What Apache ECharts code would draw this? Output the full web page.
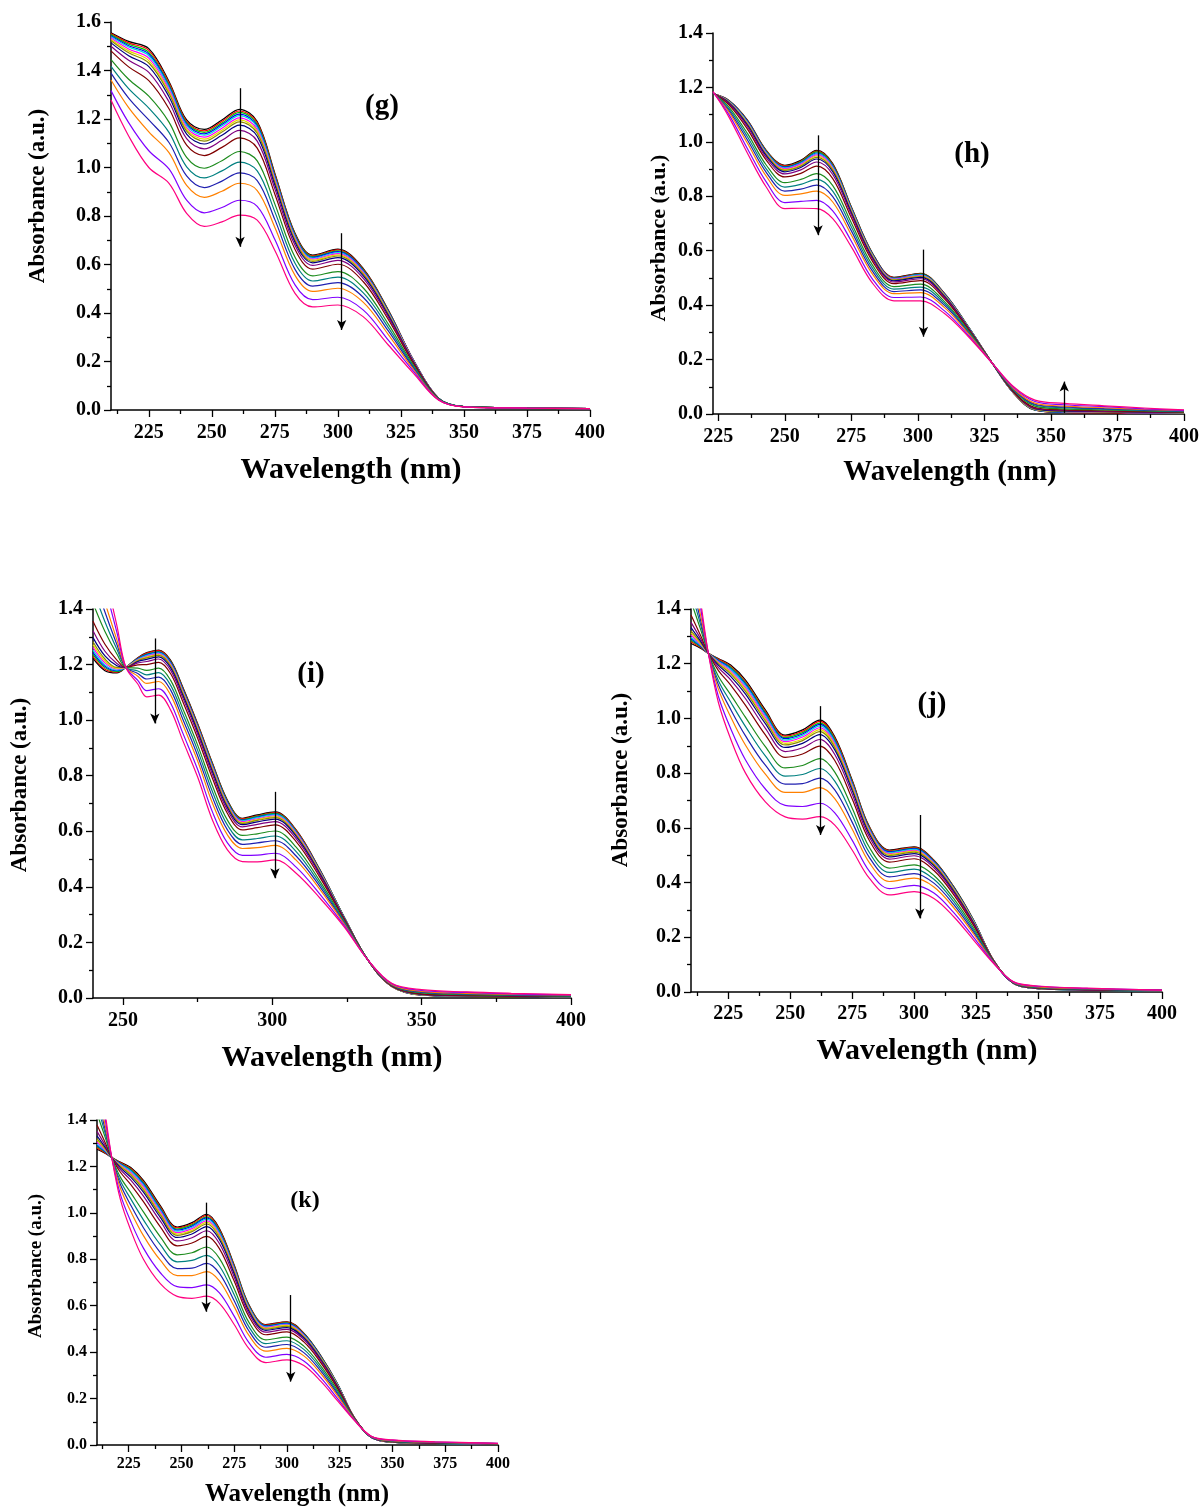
<!DOCTYPE html>
<html>
<head>
<meta charset="utf-8">
<script src="https://cdn.jsdelivr.net/npm/echarts@6/dist/echarts.min.js"></script>
<style>
html,body{margin:0;padding:0;background:#fff;}
#chart{width:1202px;height:1509px;}
</style>
</head>
<body>
<div id="chart"></div>
<script>
// One colour per spectrum, in recording order (first scan black, last scan pink)
const spectrumColors = ['#000000','#FF0000','#00C800','#0000FF','#00DDDD','#FF00FF','#E8D800','#8C8C00',
  '#000080','#800080','#800000','#1E8C1E','#008080','#2020B0','#FF8000','#8000FF','#FF0080'];

// ---------- (g) ----------
const gWavelength = [210,217,225,233,240,247,254,261,268,275,283,290,300,310,320,330,340,350,375,400];
const gSpectra = [
  [1.556,1.520,1.490,1.355,1.196,1.157,1.196,1.240,1.190,0.976,0.729,0.639,0.663,0.584,0.412,0.206,0.048,0.014,0.008,0.006],
  [1.552,1.514,1.483,1.349,1.190,1.151,1.190,1.233,1.184,0.971,0.725,0.636,0.660,0.581,0.410,0.205,0.048,0.014,0.008,0.006],
  [1.548,1.508,1.475,1.342,1.184,1.145,1.183,1.227,1.178,0.966,0.722,0.633,0.656,0.578,0.408,0.204,0.048,0.014,0.008,0.006],
  [1.543,1.502,1.468,1.336,1.179,1.139,1.177,1.220,1.172,0.962,0.718,0.629,0.653,0.575,0.406,0.204,0.048,0.014,0.008,0.006],
  [1.539,1.497,1.461,1.330,1.173,1.133,1.171,1.214,1.166,0.957,0.714,0.626,0.649,0.572,0.403,0.203,0.048,0.014,0.008,0.006],
  [1.534,1.489,1.451,1.321,1.165,1.125,1.162,1.205,1.157,0.951,0.709,0.622,0.645,0.568,0.400,0.202,0.047,0.014,0.008,0.006],
  [1.528,1.481,1.441,1.313,1.157,1.117,1.154,1.196,1.149,0.944,0.704,0.618,0.640,0.564,0.398,0.200,0.047,0.014,0.008,0.006],
  [1.523,1.473,1.431,1.305,1.150,1.109,1.146,1.188,1.141,0.938,0.699,0.613,0.635,0.560,0.395,0.199,0.047,0.014,0.008,0.006],
  [1.514,1.461,1.416,1.292,1.138,1.097,1.133,1.175,1.129,0.928,0.692,0.607,0.628,0.554,0.390,0.198,0.047,0.014,0.008,0.006],
  [1.500,1.442,1.392,1.271,1.119,1.077,1.112,1.153,1.109,0.912,0.679,0.596,0.617,0.544,0.383,0.195,0.046,0.014,0.008,0.006],
  [1.481,1.415,1.358,1.242,1.092,1.049,1.083,1.122,1.080,0.890,0.662,0.581,0.601,0.530,0.373,0.191,0.046,0.014,0.008,0.006],
  [1.445,1.364,1.294,1.187,1.042,0.997,1.028,1.066,1.027,0.849,0.630,0.553,0.571,0.504,0.354,0.184,0.045,0.014,0.008,0.006],
  [1.417,1.325,1.245,1.145,1.003,0.957,0.986,1.022,0.986,0.817,0.605,0.532,0.548,0.484,0.340,0.178,0.044,0.014,0.008,0.006],
  [1.389,1.286,1.196,1.103,0.965,0.917,0.944,0.978,0.946,0.785,0.580,0.511,0.525,0.465,0.326,0.173,0.043,0.013,0.008,0.006],
  [1.361,1.247,1.147,1.061,0.926,0.877,0.902,0.935,0.905,0.753,0.555,0.489,0.502,0.445,0.311,0.167,0.042,0.013,0.008,0.006],
  [1.317,1.185,1.069,0.994,0.865,0.813,0.835,0.865,0.840,0.703,0.516,0.455,0.465,0.413,0.288,0.159,0.041,0.013,0.008,0.006],
  [1.278,1.130,1.000,0.935,0.811,0.757,0.776,0.804,0.783,0.658,0.481,0.425,0.433,0.385,0.268,0.151,0.040,0.013,0.008,0.006]
];
const gXTicks = [225,250,275,300,325,350,375,400];
const gXMinor = [212.5,237.5,262.5,287.5,312.5,337.5,362.5,387.5];
const gArrows = [[261.2,1.327,0.673],[301.5,0.729,0.330]];

// ---------- (h) ----------
const hWavelength = [223,229,236,243,250,256,262,268,275,283,291,301,310,319,328,336,344,355,370,385,400];
const hSpectra = [
  [1.177,1.152,1.079,0.969,0.914,0.932,0.969,0.920,0.761,0.590,0.502,0.517,0.443,0.320,0.186,0.076,0.014,0.006,0.005,0.004,0.004],
  [1.177,1.151,1.077,0.967,0.912,0.929,0.966,0.917,0.759,0.588,0.501,0.515,0.442,0.319,0.186,0.076,0.015,0.006,0.005,0.004,0.004],
  [1.177,1.150,1.075,0.965,0.909,0.927,0.963,0.914,0.757,0.587,0.499,0.514,0.441,0.319,0.186,0.077,0.015,0.007,0.006,0.005,0.004],
  [1.177,1.149,1.074,0.963,0.907,0.924,0.959,0.911,0.754,0.585,0.498,0.512,0.440,0.318,0.186,0.077,0.016,0.007,0.006,0.005,0.004],
  [1.177,1.148,1.072,0.961,0.904,0.921,0.956,0.908,0.752,0.583,0.497,0.511,0.439,0.318,0.186,0.077,0.016,0.008,0.007,0.005,0.005],
  [1.178,1.147,1.069,0.958,0.901,0.918,0.952,0.904,0.749,0.581,0.495,0.509,0.437,0.317,0.186,0.078,0.017,0.009,0.007,0.005,0.005],
  [1.178,1.146,1.067,0.955,0.898,0.914,0.948,0.900,0.746,0.579,0.493,0.507,0.436,0.316,0.186,0.078,0.018,0.009,0.008,0.006,0.005],
  [1.178,1.145,1.064,0.953,0.895,0.911,0.943,0.896,0.743,0.577,0.492,0.505,0.434,0.316,0.186,0.079,0.018,0.010,0.008,0.006,0.005],
  [1.178,1.143,1.061,0.949,0.890,0.906,0.937,0.890,0.739,0.573,0.489,0.502,0.432,0.315,0.186,0.080,0.020,0.011,0.009,0.007,0.006],
  [1.179,1.140,1.055,0.942,0.882,0.897,0.926,0.880,0.732,0.568,0.485,0.497,0.428,0.313,0.186,0.081,0.021,0.013,0.010,0.008,0.006],
  [1.179,1.136,1.046,0.933,0.871,0.884,0.911,0.865,0.721,0.560,0.479,0.490,0.423,0.310,0.186,0.082,0.024,0.015,0.012,0.009,0.007],
  [1.180,1.128,1.030,0.915,0.850,0.862,0.883,0.839,0.702,0.546,0.468,0.477,0.413,0.306,0.186,0.086,0.029,0.019,0.015,0.011,0.008],
  [1.181,1.121,1.018,0.901,0.834,0.844,0.862,0.819,0.687,0.535,0.459,0.466,0.406,0.302,0.186,0.088,0.033,0.023,0.018,0.013,0.010],
  [1.182,1.115,1.006,0.888,0.819,0.826,0.841,0.799,0.673,0.524,0.450,0.456,0.399,0.298,0.186,0.090,0.036,0.026,0.020,0.015,0.011],
  [1.183,1.109,0.994,0.874,0.803,0.809,0.819,0.779,0.658,0.513,0.442,0.446,0.391,0.295,0.186,0.093,0.040,0.029,0.023,0.017,0.012],
  [1.184,1.100,0.974,0.853,0.777,0.781,0.785,0.746,0.635,0.495,0.428,0.430,0.379,0.289,0.186,0.097,0.046,0.034,0.027,0.019,0.013],
  [1.185,1.091,0.957,0.834,0.755,0.756,0.755,0.718,0.614,0.480,0.416,0.416,0.369,0.284,0.186,0.100,0.051,0.039,0.030,0.022,0.015]
];
const hXTicks = [225,250,275,300,325,350,375,400];
const hXMinor = [237.5,262.5,287.5,312.5,337.5,362.5,387.5];
const hArrows = [[262.5,1.024,0.657],[302.1,0.604,0.284],[355,0.004,0.119]];

// ---------- (i) ----------
const iWavelength = [240,244,248,251,255,258,262,266,270,275,280,285,290,295,301,308,316,324,332,340,350,365,380,400];
const iSpectra = [
  [1.222,1.178,1.170,1.190,1.225,1.243,1.252,1.215,1.120,0.988,0.845,0.712,0.647,0.659,0.670,0.605,0.461,0.293,0.137,0.041,0.010,0.006,0.005,0.004],
  [1.229,1.183,1.173,1.190,1.224,1.241,1.250,1.212,1.117,0.985,0.842,0.709,0.645,0.656,0.667,0.603,0.459,0.292,0.137,0.041,0.010,0.006,0.005,0.004],
  [1.237,1.189,1.175,1.190,1.222,1.238,1.247,1.210,1.114,0.982,0.839,0.707,0.642,0.654,0.665,0.600,0.458,0.292,0.137,0.041,0.011,0.006,0.005,0.004],
  [1.244,1.194,1.178,1.190,1.221,1.236,1.245,1.207,1.111,0.979,0.836,0.704,0.640,0.651,0.662,0.598,0.456,0.291,0.137,0.042,0.011,0.007,0.006,0.004],
  [1.252,1.199,1.180,1.190,1.219,1.233,1.242,1.204,1.108,0.976,0.833,0.701,0.638,0.649,0.660,0.596,0.455,0.291,0.137,0.042,0.011,0.007,0.006,0.005],
  [1.262,1.206,1.184,1.190,1.217,1.230,1.239,1.201,1.105,0.973,0.829,0.698,0.635,0.645,0.656,0.593,0.453,0.290,0.137,0.042,0.012,0.007,0.006,0.005],
  [1.272,1.213,1.187,1.190,1.215,1.227,1.236,1.197,1.101,0.969,0.824,0.694,0.631,0.642,0.653,0.589,0.451,0.289,0.137,0.042,0.012,0.008,0.006,0.005],
  [1.282,1.220,1.190,1.190,1.214,1.224,1.233,1.194,1.097,0.965,0.820,0.691,0.628,0.639,0.649,0.586,0.449,0.289,0.137,0.042,0.012,0.008,0.006,0.005],
  [1.297,1.231,1.196,1.190,1.211,1.219,1.228,1.188,1.091,0.959,0.814,0.685,0.624,0.634,0.644,0.582,0.446,0.288,0.137,0.043,0.013,0.008,0.007,0.005],
  [1.322,1.248,1.204,1.190,1.206,1.211,1.220,1.179,1.082,0.950,0.804,0.676,0.616,0.625,0.635,0.574,0.441,0.286,0.137,0.043,0.014,0.009,0.007,0.006],
  [1.356,1.273,1.216,1.190,1.199,1.200,1.208,1.167,1.068,0.936,0.790,0.664,0.605,0.613,0.623,0.563,0.433,0.283,0.137,0.044,0.015,0.010,0.008,0.006],
  [1.421,1.319,1.238,1.190,1.187,1.179,1.187,1.143,1.043,0.911,0.763,0.640,0.585,0.591,0.601,0.543,0.420,0.279,0.137,0.046,0.018,0.012,0.010,0.007],
  [1.471,1.354,1.255,1.190,1.177,1.163,1.171,1.125,1.024,0.892,0.742,0.622,0.569,0.574,0.583,0.527,0.410,0.275,0.137,0.047,0.020,0.014,0.011,0.008],
  [1.521,1.389,1.272,1.190,1.168,1.148,1.155,1.108,1.005,0.873,0.722,0.605,0.553,0.558,0.566,0.511,0.400,0.271,0.137,0.048,0.022,0.016,0.012,0.009],
  [1.571,1.424,1.289,1.190,1.158,1.132,1.139,1.090,0.986,0.854,0.701,0.587,0.538,0.541,0.549,0.496,0.390,0.268,0.137,0.049,0.024,0.017,0.013,0.010],
  [1.650,1.481,1.316,1.190,1.143,1.106,1.113,1.061,0.955,0.823,0.669,0.558,0.513,0.514,0.521,0.471,0.373,0.262,0.137,0.051,0.027,0.020,0.015,0.011],
  [1.720,1.530,1.340,1.190,1.130,1.084,1.090,1.036,0.928,0.796,0.640,0.533,0.491,0.490,0.497,0.449,0.359,0.257,0.137,0.053,0.030,0.022,0.017,0.012]
];
const iXTicks = [250,300,350,400];
const iXMinor = [275,325,375];
const iArrows = [[260.7,1.294,0.988],[300.9,0.742,0.431]];

// ---------- (j) ----------
const jWavelength = [210,214,217,221,226,232,240,248,255,262,268,275,282,290,300,308,316,324,332,340,350,370,400];
const jSpectra = [
  [1.274,1.256,1.238,1.219,1.195,1.140,1.031,0.939,0.958,0.994,0.933,0.775,0.604,0.519,0.531,0.482,0.385,0.263,0.117,0.032,0.012,0.007,0.005],
  [1.280,1.258,1.238,1.217,1.191,1.135,1.026,0.935,0.953,0.989,0.928,0.771,0.601,0.517,0.529,0.480,0.383,0.262,0.117,0.032,0.012,0.007,0.005],
  [1.286,1.261,1.238,1.214,1.187,1.130,1.021,0.930,0.948,0.983,0.923,0.767,0.598,0.514,0.526,0.478,0.382,0.261,0.117,0.032,0.012,0.007,0.005],
  [1.291,1.263,1.238,1.212,1.183,1.125,1.016,0.926,0.943,0.978,0.918,0.763,0.595,0.512,0.524,0.476,0.380,0.260,0.116,0.032,0.012,0.007,0.005],
  [1.297,1.266,1.238,1.209,1.179,1.120,1.011,0.921,0.938,0.973,0.914,0.760,0.593,0.509,0.521,0.474,0.378,0.259,0.116,0.032,0.013,0.007,0.005],
  [1.305,1.269,1.238,1.206,1.173,1.113,1.004,0.915,0.932,0.966,0.907,0.755,0.589,0.506,0.518,0.471,0.376,0.257,0.116,0.032,0.013,0.008,0.005],
  [1.313,1.272,1.238,1.203,1.168,1.106,0.997,0.909,0.925,0.959,0.901,0.749,0.585,0.503,0.515,0.468,0.374,0.256,0.116,0.033,0.013,0.008,0.005],
  [1.320,1.276,1.238,1.200,1.163,1.099,0.991,0.903,0.919,0.952,0.894,0.744,0.581,0.499,0.511,0.465,0.372,0.254,0.116,0.033,0.013,0.008,0.005],
  [1.332,1.281,1.238,1.195,1.154,1.089,0.981,0.894,0.909,0.941,0.885,0.737,0.576,0.494,0.506,0.461,0.368,0.252,0.115,0.033,0.014,0.008,0.005],
  [1.351,1.289,1.238,1.187,1.141,1.072,0.964,0.879,0.893,0.923,0.868,0.724,0.566,0.486,0.498,0.454,0.363,0.248,0.115,0.033,0.014,0.008,0.006],
  [1.378,1.300,1.238,1.176,1.122,1.048,0.940,0.858,0.870,0.899,0.846,0.706,0.553,0.475,0.487,0.444,0.355,0.243,0.114,0.034,0.015,0.009,0.006],
  [1.428,1.322,1.238,1.155,1.087,1.004,0.897,0.819,0.828,0.853,0.804,0.673,0.528,0.453,0.465,0.426,0.341,0.234,0.112,0.034,0.016,0.010,0.006],
  [1.467,1.338,1.238,1.139,1.060,0.970,0.863,0.789,0.795,0.817,0.771,0.647,0.509,0.437,0.449,0.412,0.330,0.226,0.111,0.035,0.017,0.011,0.006],
  [1.506,1.354,1.238,1.124,1.033,0.936,0.829,0.760,0.762,0.782,0.739,0.621,0.491,0.421,0.433,0.398,0.319,0.219,0.110,0.036,0.018,0.011,0.006],
  [1.544,1.371,1.238,1.108,1.006,0.902,0.796,0.730,0.730,0.747,0.707,0.596,0.472,0.404,0.416,0.384,0.308,0.212,0.109,0.036,0.019,0.012,0.006],
  [1.606,1.397,1.238,1.082,0.963,0.848,0.742,0.682,0.678,0.690,0.655,0.555,0.441,0.378,0.390,0.362,0.290,0.200,0.107,0.037,0.021,0.013,0.007],
  [1.660,1.420,1.238,1.060,0.925,0.800,0.695,0.640,0.632,0.641,0.610,0.519,0.415,0.355,0.367,0.342,0.275,0.190,0.105,0.038,0.022,0.014,0.007]
];
const jXTicks = [225,250,275,300,325,350,375,400];
const jXMinor = [212.5,237.5,262.5,287.5,312.5,337.5,362.5,387.5];
const jArrows = [[262.3,1.045,0.574],[302.3,0.647,0.269]];

// ---------- (k) : the same series of scans as (j), drawn smaller ----------
const kWavelength = jWavelength;
const kSpectra = jSpectra;
const kXTicks = [225,250,275,300,325,350,375,400];
const kXMinor = [212.5,237.5,262.5,287.5,312.5,337.5,362.5,387.5];
const kArrows = [[261.7,1.044,0.574],[301.8,0.646,0.273]];

const yTitleText = 'Absorbance (a.u.)';
const xTitleText = 'Wavelength (nm)';
const serif = '"Liberation Serif","Times New Roman",serif';

// Panel layout (pixel boxes, fonts and title spots)
const panels = [
  { wl: gWavelength, spectra: gSpectra, xMin: 210, xMax: 400, yMax: 1.6, xTicks: gXTicks, xMinor: gXMinor, arrows: gArrows,
    box: {left: 111, top: 22, width: 479, height: 388}, tickFont: 20, xMargin: 13,
    yTitle: {x: 38, y: 196, size: 23}, xTitle: {x: 351, y: 470, size: 30}, tag: {text: '(g)', x: 382, y: 107, size: 29} },
  { wl: hWavelength, spectra: hSpectra, xMin: 223, xMax: 400, yMax: 1.4, xTicks: hXTicks, xMinor: hXMinor, arrows: hArrows,
    box: {left: 713, top: 33, width: 473, height: 381}, tickFont: 20, xMargin: 13,
    yTitle: {x: 659, y: 238, size: 22}, xTitle: {x: 950, y: 473, size: 29}, tag: {text: '(h)', x: 972, y: 155, size: 29} },
  { wl: iWavelength, spectra: iSpectra, xMin: 240, xMax: 400, yMax: 1.4, xTicks: iXTicks, xMinor: iXMinor, arrows: iArrows,
    box: {left: 93, top: 609, width: 478, height: 389}, tickFont: 20, xMargin: 13,
    yTitle: {x: 20, y: 785, size: 23}, xTitle: {x: 332, y: 1058, size: 30}, tag: {text: '(i)', x: 311, y: 675, size: 29} },
  { wl: jWavelength, spectra: jSpectra, xMin: 210, xMax: 400, yMax: 1.4, xTicks: jXTicks, xMinor: jXMinor, arrows: jArrows,
    box: {left: 691, top: 609, width: 471, height: 383}, tickFont: 20, xMargin: 12,
    yTitle: {x: 621, y: 780, size: 23}, xTitle: {x: 927, y: 1051, size: 30}, tag: {text: '(j)', x: 932, y: 705, size: 29} },
  { wl: kWavelength, spectra: kSpectra, xMin: 210, xMax: 400, yMax: 1.4, xTicks: kXTicks, xMinor: kXMinor, arrows: kArrows,
    box: {left: 97, top: 1120, width: 401, height: 325}, tickFont: 16, xMargin: 11,
    yTitle: {x: 36, y: 1266, size: 19}, xTitle: {x: 297, y: 1495, size: 25}, tag: {text: '(k)', x: 305, y: 1201, size: 24} }
];

const axisLineStyle = {color: '#000', width: 1.5};
const tickLineStyle = {color: '#000', width: 1.3};

const option = {
  animation: false,
  backgroundColor: '#ffffff',
  grid: [], xAxis: [], yAxis: [], series: [], graphic: []
};

panels.forEach((p, k) => {
  option.grid.push(Object.assign({containLabel: false}, p.box));
  const labelFont = {fontFamily: serif, fontWeight: 'bold', fontSize: p.tickFont, color: '#000'};

  // main wavelength axis with labelled ticks
  option.xAxis.push({
    type: 'value', gridIndex: k, min: p.xMin, max: p.xMax, position: 'bottom',
    axisLine: {show: true, onZero: false, lineStyle: axisLineStyle},
    axisTick: {show: true, customValues: p.xTicks, length: 7, lineStyle: tickLineStyle},
    axisLabel: Object.assign({show: true, customValues: p.xTicks, margin: p.xMargin}, labelFont),
    splitLine: {show: false}
  });
  // companion axis carrying only the short minor ticks
  option.xAxis.push({
    type: 'value', gridIndex: k, min: p.xMin, max: p.xMax, position: 'bottom', offset: 0,
    axisLine: {show: false, onZero: false},
    axisTick: {show: true, customValues: p.xMinor, length: 4, lineStyle: tickLineStyle},
    axisLabel: {show: false}, splitLine: {show: false}
  });
  option.yAxis.push({
    type: 'value', gridIndex: k, min: 0, max: p.yMax, interval: 0.2,
    axisLine: {show: true, lineStyle: axisLineStyle},
    axisTick: {show: true, length: 7, lineStyle: tickLineStyle},
    minorTick: {show: true, splitNumber: 2, length: 4, lineStyle: tickLineStyle},
    axisLabel: Object.assign({margin: 10, formatter: v => v.toFixed(1)}, labelFont),
    splitLine: {show: false}, minorSplitLine: {show: false}
  });

  p.spectra.forEach((row, c) => {
    const s = {
      type: 'line', name: 'scan ' + (c + 1), xAxisIndex: 2 * k, yAxisIndex: k,
      data: p.wl.map((w, i) => [w, row[i]]),
      symbol: 'none', showSymbol: false, smooth: 0.35, clip: true, silent: true,
      lineStyle: {width: 1.2, color: spectrumColors[c]},
      itemStyle: {color: spectrumColors[c]}
    };
    if (c === p.spectra.length - 1) {
      s.markLine = {
        silent: true, symbol: ['none', 'arrow'], symbolSize: [7, 10], precision: 3,
        lineStyle: {color: '#000', width: 1.3, type: 'solid'},
        label: {show: false},
        data: p.arrows.map(a => [{coord: [a[0], a[1]]}, {coord: [a[0], a[2]]}])
      };
    }
    option.series.push(s);
  });

  option.graphic.push(
    {type: 'text', x: p.yTitle.x, y: p.yTitle.y, rotation: Math.PI / 2,
     style: {text: yTitleText, font: 'bold ' + p.yTitle.size + 'px ' + serif, fill: '#000', align: 'center', verticalAlign: 'middle'}},
    {type: 'text', x: p.xTitle.x, y: p.xTitle.y,
     style: {text: xTitleText, font: 'bold ' + p.xTitle.size + 'px ' + serif, fill: '#000', align: 'center', verticalAlign: 'middle'}},
    {type: 'text', x: p.tag.x, y: p.tag.y,
     style: {text: p.tag.text, font: 'bold ' + p.tag.size + 'px ' + serif, fill: '#000', align: 'center', verticalAlign: 'middle'}}
  );
});

const chart = echarts.init(document.getElementById('chart'), null, {renderer: 'canvas', width: 1202, height: 1509});
chart.setOption(option);
</script>
</body>
</html>
